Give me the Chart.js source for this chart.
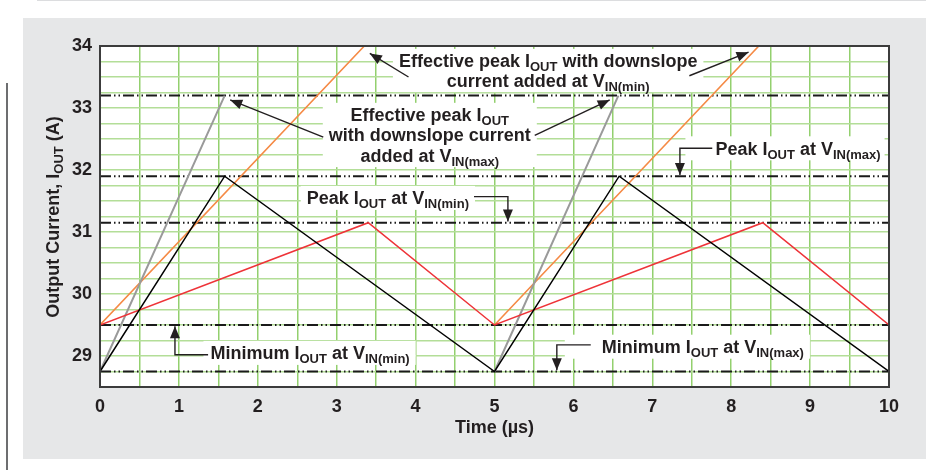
<!DOCTYPE html>
<html lang="en">
<head>
<meta charset="UTF-8">
<title>Output Current vs Time</title>
<script src="https://cdn.jsdelivr.net/npm/chart.js"></script>
<style>
  html, body { margin: 0; padding: 0; background: #fff; }
  body { width: 926px; height: 470px; position: relative; overflow: hidden; }
  .topline { position: absolute; left: 37px; top: 0; right: 0; height: 1px; background: #dcdddf; }
  .panel { position: absolute; left: 23px; top: 18px; width: 903px; height: 441px; background: #e6e7e8; }
  .sideline { position: absolute; left: 6px; top: 83px; width: 2px; height: 387px; background: #6d6e70; }
  canvas { position: absolute; left: 0; top: 0; }
</style>
</head>
<body>
<div class="topline"></div>
<div class="panel"></div>
<div class="sideline"></div>
<canvas id="chart" width="926" height="470"></canvas>
<script>
// values: time in µs, current in A
const timeVinMax = [0, 1.58, 5, 6.58, 10];
const currVinMax = [28.75, 31.9, 28.75, 31.9, 28.75];
const timeVinMin = [0, 3.4, 5, 8.4, 10];
const currVinMin = [29.5, 31.15, 29.5, 31.15, 29.5];
// effective peak ramps (two separate segments, null breaks them)
const timeEffMax = [0, 1.58, 1.58, 5, 6.57];
const currEffMax = [28.75, 33.2, null, 28.75, 33.2];
const timeEffMin = [0, 3.35, 3.35, 5, 8.35];
const currEffMin = [29.5, 34, null, 29.5, 34];
// dash-dot-dot reference levels
const levelValues = [34, 33.2, 31.9, 31.15, 29.5, 28.75];
const levelSpan = [0, 10];
const xTickLabels = [0, 1, 2, 3, 4, 5, 6, 7, 8, 9, 10];
const yTickLabels = [29, 30, 31, 32, 33, 34];

const FONT = '"Liberation Sans", Arial, Helvetica, sans-serif';
const INK = '#231f20';
const MAIN = 18, SUB = 13;

function pts(xs, ys) {
    return xs.map((x, i) => ({ x: x, y: ys[i] }));
}

// text with _{...} subscripts
function parse(str) {
    const out = [];
    const re = /_\{([^}]*)\}/g;
    let last = 0, m;
    while ((m = re.exec(str))) {
        if (m.index > last) out.push({ t: str.slice(last, m.index), sub: false });
        out.push({ t: m[1], sub: true });
        last = re.lastIndex;
    }
    if (last < str.length) out.push({ t: str.slice(last), sub: false });
    return out;
}

function richWidth(ctx, str) {
    let w = 0;
    parse(str).forEach(p => {
        ctx.font = 'bold ' + (p.sub ? SUB : MAIN) + 'px ' + FONT;
        w += ctx.measureText(p.t).width;
    });
    return w;
}

function drawRich(ctx, str, x, y, align) {
    const w = richWidth(ctx, str);
    let cx = align === 'center' ? x - w / 2 : x;
    const base = y + MAIN * 0.36;
    ctx.textAlign = 'left';
    ctx.textBaseline = 'alphabetic';
    parse(str).forEach(p => {
        ctx.font = 'bold ' + (p.sub ? SUB : MAIN) + 'px ' + FONT;
        ctx.fillText(p.t, cx, p.sub ? base + 4 : base);
        cx += ctx.measureText(p.t).width;
    });
}

function drawArrow(ctx, p) {
    ctx.beginPath();
    ctx.moveTo(p[0][0], p[0][1]);
    for (let i = 1; i < p.length; i++) ctx.lineTo(p[i][0], p[i][1]);
    ctx.stroke();
    const [x1, y1] = p[p.length - 2], [x2, y2] = p[p.length - 1];
    const a = Math.atan2(y2 - y1, x2 - x1);
    const L = 12, W = 5;
    ctx.beginPath();
    ctx.moveTo(x2, y2);
    ctx.lineTo(x2 - L * Math.cos(a) + W * Math.sin(a), y2 - L * Math.sin(a) - W * Math.cos(a));
    ctx.lineTo(x2 - L * Math.cos(a) - W * Math.sin(a), y2 - L * Math.sin(a) + W * Math.cos(a));
    ctx.closePath();
    ctx.fill();
}

// annotation placement in data units (µs, A)
const notes = [
    { lines: ['Effective peak I_{OUT} with downslope', 'current added at V_{IN(min)}'],
      x: 5.68, y: [33.76, 33.45], align: 'center', pad: [6, 6],
      arrows: [[[3.91, 33.5], [3.42, 33.88]], [[7.47, 33.52], [8.22, 33.9]]] },
    { lines: ['Effective peak I_{OUT}', 'with downslope current', 'added at V_{IN(max)}'],
      x: 4.18, y: [32.89, 32.58, 32.24], align: 'center', pad: [6, 6],
      arrows: [[[2.83, 32.53], [1.65, 33.13]], [[5.51, 32.56], [6.46, 33.13]]] },
    { lines: ['Peak I_{OUT} at V_{IN(max)}'],
      x: 7.8, y: [32.35], align: 'left', pad: [30, 4],
      arrows: [[[7.76, 32.35], [7.35, 32.35], [7.35, 31.92]]] },
    { lines: ['Peak I_{OUT} at V_{IN(min)}'],
      x: 2.62, y: [31.55], align: 'left', pad: [6, 6],
      arrows: [[[4.74, 31.57], [5.17, 31.57], [5.17, 31.17]]] },
    { lines: ['Minimum I_{OUT} at V_{IN(min)}'],
      x: 1.4, y: [29.05], align: 'left', pad: [7, 6],
      arrows: [[[1.37, 29.02], [0.95, 29.02], [0.95, 29.48]]] },
    { lines: ['Minimum I_{OUT} at V_{IN(max)}'],
      x: 6.36, y: [29.15], align: 'left', pad: [37, 6],
      arrows: [[[6.22, 29.18], [5.79, 29.18], [5.79, 28.77]]] }
];

function noteBox(ctx, chart, n) {
    const xs = chart.scales.x, ys = chart.scales.y;
    const px = xs.getPixelForValue(n.x);
    let left = Infinity, right = -Infinity;
    n.lines.forEach(l => {
        const w = richWidth(ctx, l);
        const l0 = n.align === 'center' ? px - w / 2 : px;
        left = Math.min(left, l0);
        right = Math.max(right, l0 + w);
    });
    const top = ys.getPixelForValue(n.y[0]) - 12;
    const bottom = ys.getPixelForValue(n.y[n.y.length - 1]) + 12;
    return { left: left - n.pad[0], right: right + n.pad[1], top: top, bottom: bottom };
}

const annotate = {
    id: 'annotate',
    beforeDraw(chart) {
        const { ctx, chartArea: a } = chart;
        ctx.save();
        ctx.fillStyle = '#ffffff';
        ctx.fillRect(a.left, a.top, a.right - a.left, a.bottom - a.top);
        ctx.restore();
    },
    beforeDatasetsDraw(chart) {
        const ctx = chart.ctx;
        ctx.save();
        ctx.fillStyle = '#ffffff';
        notes.forEach(n => {
            const b = noteBox(ctx, chart, n);
            ctx.fillRect(b.left, b.top, b.right - b.left, b.bottom - b.top);
        });
        ctx.restore();
    },
    afterDatasetsDraw(chart) {
        const { ctx, chartArea: a } = chart;
        const xs = chart.scales.x, ys = chart.scales.y;
        ctx.save();
        // frame
        ctx.strokeStyle = '#3c3c3c';
        ctx.lineWidth = 2;
        ctx.strokeRect(a.left, a.top, a.right - a.left, a.bottom - a.top);
        // arrows
        ctx.strokeStyle = INK;
        ctx.fillStyle = INK;
        ctx.lineWidth = 1.4;
        notes.forEach(n => {
            n.arrows.forEach(ar => {
                drawArrow(ctx, ar.map(p => [xs.getPixelForValue(p[0]), ys.getPixelForValue(p[1])]));
            });
        });
        // labels
        notes.forEach(n => {
            const px = xs.getPixelForValue(n.x);
            n.lines.forEach((l, i) => drawRich(ctx, l, px, ys.getPixelForValue(n.y[i]), n.align));
        });
        ctx.restore();
    },
    afterDraw(chart) {
        const { ctx, chartArea: a } = chart;
        ctx.save();
        ctx.fillStyle = INK;
        drawRich(ctx, 'Time (µs)', (a.left + a.right) / 2, 427, 'center');
        ctx.translate(53, 217);
        ctx.rotate(-Math.PI / 2);
        drawRich(ctx, 'Output Current, I_{OUT} (A)', 0, 0, 'center');
        ctx.restore();
    }
};

const datasets = [
    { data: pts(timeVinMax, currVinMax), borderColor: '#000000', borderWidth: 1.5 },
    { data: pts(timeVinMin, currVinMin), borderColor: '#ee3338', borderWidth: 1.5 },
    { data: pts(timeEffMax, currEffMax), borderColor: '#9a9a9a', borderWidth: 2 },
    { data: pts(timeEffMin, currEffMin), borderColor: '#f58a45', borderWidth: 1.6 }
];
levelValues.forEach(v => {
    datasets.push({
        data: pts(levelSpan, [v, v]),
        borderColor: '#1a1a1a',
        borderWidth: 2,
        borderDash: [11, 3, 1.5, 3, 1.5, 3]
    });
});

new Chart(document.getElementById('chart'), {
    type: 'line',
    data: { datasets: datasets },
    options: {
        responsive: false,
        animation: false,
        spanGaps: false,
        elements: { point: { radius: 0 }, line: { tension: 0 } },
        layout: { padding: { top: 46, right: 37, left: 0, bottom: 0 } },
        plugins: { legend: { display: false }, tooltip: { enabled: false } },
        scales: {
            x: {
                type: 'linear',
                min: 0,
                max: 10,
                afterFit: s => { s.height = 83; },
                border: { display: false },
                grid: { color: '#93d06e', lineWidth: 1.5, drawTicks: false },
                ticks: {
                    stepSize: 0.5,
                    autoSkip: false,
                    maxRotation: 0,
                    padding: 9,
                    color: INK,
                    font: { family: FONT, size: 18, weight: 'bold' },
                    callback: v => xTickLabels.includes(v) ? String(v) : ''
                }
            },
            y: {
                type: 'linear',
                min: 28.5,
                max: 34,
                afterFit: s => { s.width = 100; },
                border: { display: false },
                grid: { color: '#b3de98', lineWidth: 1.5, drawTicks: false },
                ticks: {
                    stepSize: 0.25,
                    autoSkip: false,
                    padding: 8,
                    color: INK,
                    font: { family: FONT, size: 18, weight: 'bold' },
                    callback: v => yTickLabels.includes(v) ? String(v) : ''
                }
            }
        }
    },
    plugins: [annotate]
});
</script>
</body>
</html>
